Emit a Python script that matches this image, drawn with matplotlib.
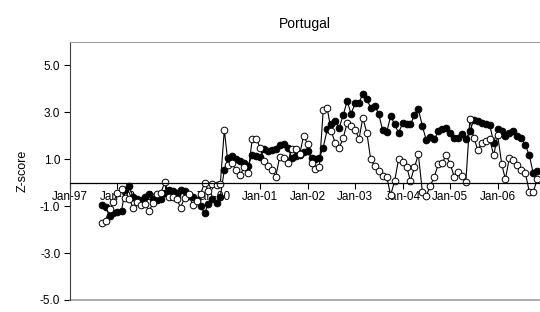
import matplotlib
matplotlib.use("Agg")
import matplotlib.pyplot as plt
import matplotlib.dates as mdates
import pandas as pd

# monthly series, Sep-1997 .. Nov-2006
months = pd.date_range("1997-09-01", periods=111, freq="MS")

filled = [-0.95, -1.05, -1.4, -1.3,
          -1.25, -1.2, -0.3, -0.15, -0.6, -0.7, -0.75, -0.6, -0.5, -0.7, -0.75, -0.7,
          -0.45, -0.3, -0.35, -0.45, -0.3, -0.35, -0.55, -0.6, -0.75, -1.0, -1.3, -0.9,
          -0.7, -0.85, -0.6, 0.55, 1.07, 1.14, 1.0, 0.93, 0.83, 0.7, 1.2, 1.15,
          1.1, 1.42, 1.35, 1.4, 1.45, 1.6, 1.64, 1.5, 1.07, 1.15, 1.2, 1.3,
          1.35, 1.07, 1.0, 1.05, 1.5, 2.28, 2.49, 2.63, 2.35, 2.87, 3.48, 2.94,
          3.38, 3.41, 3.8, 3.55, 3.2, 3.27, 2.94, 2.23, 2.16, 2.84, 2.49, 2.13,
          2.53, 2.5, 2.49, 2.87, 3.13, 2.42, 1.81, 1.95, 1.85, 2.2, 2.28, 2.35,
          2.13, 1.92, 1.9, 2.06, 1.85, 2.2, 2.67, 2.63, 2.56, 2.5, 2.45, 1.71,
          2.28, 2.2, 1.99, 2.13, 2.2, 1.99, 1.92, 1.6, 1.17, 0.4, 0.5]

hollow = [-1.7, -1.62, -1.13, -0.84,
          -0.42, -0.28, -0.67, -0.7, -1.06, -0.84, -0.96, -0.9, -1.2, -0.87, -0.49, -0.42,
          0.05, -0.59, -0.59, -0.7, -1.06, -0.63, -0.49, -0.94, -0.8, -0.49, 0.0, -0.35,
          -0.06, -0.09, -0.06, 2.25, 0.74, 0.82, 0.55, 0.32, 0.69, 0.43, 1.85, 1.88,
          1.5, 0.93, 0.72, 0.55, 0.26, 1.11, 1.07, 0.86, 1.45, 1.43, 1.21, 1.99,
          1.67, 0.82, 0.57, 0.65, 3.09, 3.17, 2.2, 1.71, 1.5, 1.89, 2.56, 2.42,
          2.25, 1.88, 2.77, 2.13, 1.0, 0.72, 0.5, 0.29, 0.26, -0.53, 0.08, 1.0,
          0.89, 0.69, 0.08, 0.65, 1.21, -0.38, -0.56, -0.14, 0.26, 0.79, 0.86, 1.17,
          0.79, 0.26, 0.46, 0.29, 0.03, 2.7, 1.92, 1.4, 1.68, 1.78, 1.85, 1.17,
          2.02, 0.79, 0.15, 1.07, 0.96, 0.74, 0.55, 0.43, -0.39, -0.39, 0.15]

year_ticks = pd.date_range("1997-01-01", "2006-01-01", freq="YS")
y_ticks = [-5, -3, -1, 1, 3, 5]

plt.rcParams['font.family'] = ['Liberation Sans', 'DejaVu Sans']

fig = plt.figure(figsize=(5.4, 3.12), dpi=100)
ax = fig.add_axes([70 / 540, 12 / 312, 470 / 540, 258 / 312])

ax.plot(months, filled, '-o', color='black', lw=0.8, ms=4.8,
        mfc='black', mec='black', mew=0.7, clip_on=True)
ax.plot(months, hollow, '-o', color='black', lw=0.8, ms=4.8,
        mfc='white', mec='black', mew=0.7, clip_on=True)

ax.set_xlim(pd.Timestamp("1997-01-01"), pd.Timestamp("2006-11-22"))
ax.set_ylim(-5, 6)

ax.set_xticks(year_ticks)
ax.xaxis.set_major_formatter(mdates.DateFormatter('%b-%y'))
ax.set_yticks(y_ticks)
ax.set_yticklabels(['%.1f' % v for v in y_ticks])

ax.spines['bottom'].set_position(('data', 0))
ax.spines['bottom'].set_color('black')
ax.spines['bottom'].set_linewidth(0.9)
ax.spines['left'].set_color('#404040')
ax.spines['top'].set_color('#a0a0a0')
ax.spines['right'].set_visible(False)
ax.axhline(-5, color='#a0a0a0', lw=1.2, clip_on=False)

ax.tick_params(axis='x', direction='out', length=4, width=0.8, labelsize=8.5,
               colors='black', pad=2)
ax.tick_params(axis='y', direction='out', length=4, width=0.8, labelsize=8.5,
               colors='black', pad=3)

ax.set_ylabel("Z-score", fontsize=9, labelpad=8)
ax.set_title("Portugal", fontsize=10, pad=10)

fig.savefig("out.png", dpi=100)
